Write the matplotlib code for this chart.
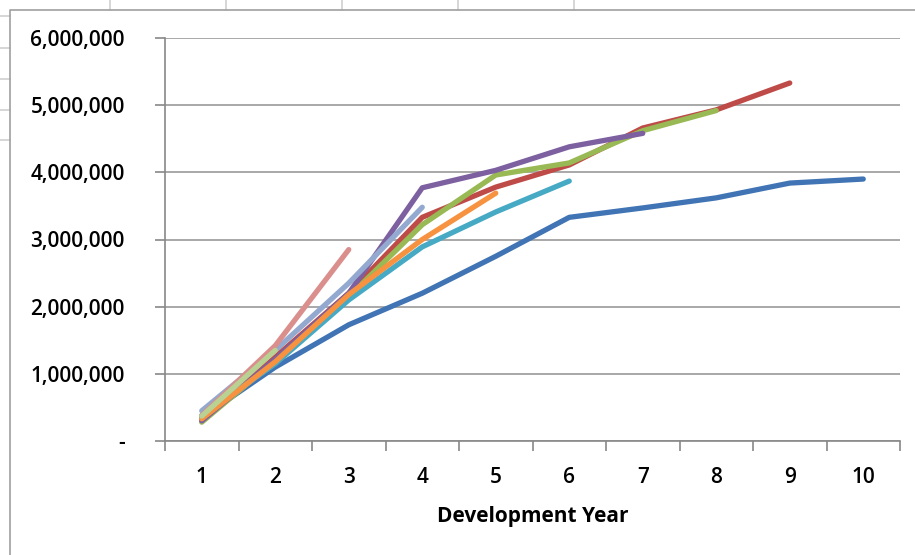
import matplotlib.pyplot as plt
from matplotlib.lines import Line2D
from matplotlib.ticker import FuncFormatter

# cumulative paid by development year, one row per origin year
dev_years = [1, 2, 3, 4, 5, 6, 7, 8, 9, 10]

origin_1 = [350000, 1100000, 1730000, 2200000, 2750000, 3330000, 3470000, 3620000, 3840000, 3900000]
origin_2 = [300000, 1250000, 2200000, 3330000, 3780000, 4110000, 4660000, 4930000, 5330000]
origin_3 = [280000, 1200000, 2150000, 3220000, 3960000, 4140000, 4620000, 4920000]
origin_4 = [300000, 1220000, 2200000, 3770000, 4030000, 4380000, 4580000]
origin_5 = [380000, 1150000, 2100000, 2890000, 3410000, 3870000]
origin_6 = [330000, 1180000, 2180000, 3000000, 3690000]
origin_7 = [450000, 1350000, 2350000, 3480000]
origin_8 = [380000, 1420000, 2850000]
origin_9 = [370000, 1350000]

series = [origin_1, origin_2, origin_3, origin_4, origin_5,
          origin_6, origin_7, origin_8, origin_9]
colors = ["#4074B4", "#BE4B48", "#98B954", "#7D60A0", "#46AAC5",
          "#F69240", "#93A9CF", "#DA8F8D", "#B9D192"]

y_ticks = [0, 1000000, 2000000, 3000000, 4000000, 5000000, 6000000]

plt.rcParams['font.family'] = ['Open Sans', 'DejaVu Sans']

fig = plt.figure(figsize=(9.15, 5.55), dpi=100)

# spreadsheet cell lines peeking out around the chart object
grid_c = "#D0D0D0"
for x in [110, 226, 342, 458, 574]:
    fig.add_artist(Line2D([x / 915, x / 915], [1, 1 - 10 / 555], color=grid_c, lw=1.2))
for y in [16, 48, 79, 110, 140]:
    fig.add_artist(Line2D([0, 10 / 915], [1 - y / 555, 1 - y / 555], color=grid_c, lw=1.2))
# chart area border
fig.add_artist(Line2D([10 / 915, 10 / 915, 1], [0, 1 - 10 / 555, 1 - 10 / 555],
                      color="#A0A0A0", lw=1.2))

ax = fig.add_axes([165 / 915, 1 - 441 / 555, 735 / 915, 403 / 555])

for vals, c in zip(series, colors):
    ax.plot(dev_years[:len(vals)], vals, color=c, lw=3.8,
            solid_capstyle='round', solid_joinstyle='round')

ax.set_xlim(0.5, 10.5)
ax.set_ylim(0, 6000000)

ax.set_xticks(dev_years)
ax.set_xticks([d - 0.5 for d in dev_years] + [10.5], minor=True)
ax.tick_params(axis='x', which='major', length=0, pad=19, labelsize=15)
ax.tick_params(axis='x', which='minor', length=7, width=1.2, color="#888888", direction='out')

ax.set_yticks(y_ticks)
ax.yaxis.set_major_formatter(FuncFormatter(lambda v, p: "-" if v == 0 else f"{v:,.0f}"))
ax.tick_params(axis='y', length=7, width=1.2, color="#888888", pad=22, labelsize=15)

for lbl in ax.get_xticklabels() + ax.get_yticklabels():
    lbl.set_fontweight('semibold')

ax.grid(axis='y', color="#9A9A9A", lw=1.2)
ax.set_axisbelow(True)

for side in ['top', 'right']:
    ax.spines[side].set_visible(False)
for side in ['left', 'bottom']:
    ax.spines[side].set_color("#888888")
    ax.spines[side].set_linewidth(1.2)

ax.set_xlabel("Development Year", fontsize=15, fontweight='bold', labelpad=13)

plt.savefig("out.png", dpi=100)
